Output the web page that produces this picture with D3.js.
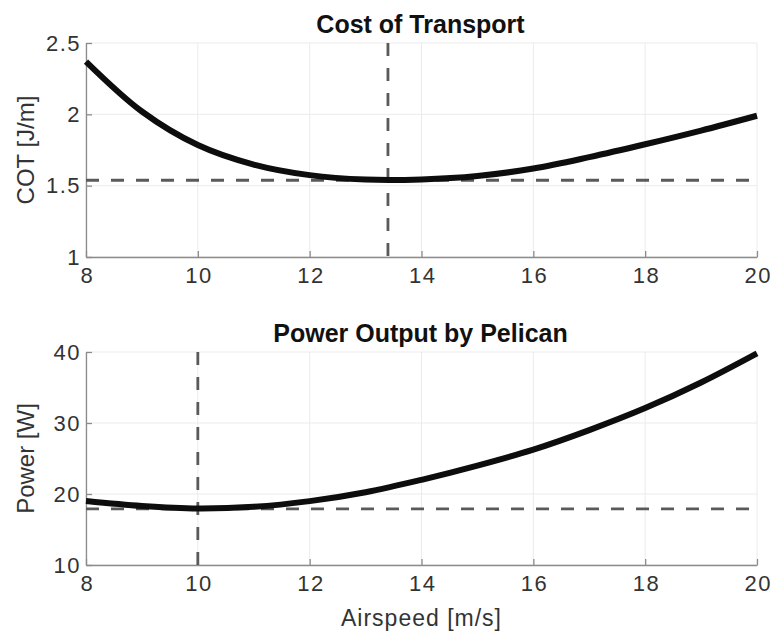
<!DOCTYPE html>
<html>
<head>
<meta charset="utf-8">
<script src="https://cdn.jsdelivr.net/npm/d3@7"></script>
<style>
  html, body { margin: 0; padding: 0; background: #fff; }
  svg { display: block; font-family: "Liberation Sans", Arial, Helvetica, sans-serif; }
</style>
</head>
<body>
<svg id="chart" width="772" height="632"></svg>
<script>
// Airspeed samples [m/s]
const airspeed = [8, 9, 10, 11, 12, 13, 14, 15, 16, 17, 18, 19, 20];
// Cost of transport [J/m]
const cot = [2.37, 2.02, 1.785, 1.648, 1.574, 1.543, 1.544, 1.568, 1.62, 1.70, 1.79, 1.886, 1.99];
// Power output [W]
const power = [19.0, 18.3, 17.95, 18.2, 19.0, 20.25, 22.0, 24.0, 26.25, 29.0, 32.1, 35.7, 39.8];

// Optimum markers
const cotMin = { v: 13.4, value: 1.538 };
const powerMin = { v: 10.0, value: 17.9 };

const xTicks = [8, 10, 12, 14, 16, 18, 20];
const cotTicks = [1, 1.5, 2, 2.5];
const powerTicks = [10, 20, 30, 40];

const svg = d3.select("#chart");
const left = 86, right = 757;

const panels = [
  { title: "Cost of Transport", ylabel: "COT [J/m]", values: cot, domain: [1, 2.5],
    ticks: cotTicks, top: 43, bottom: 257, opt: cotMin, xlabel: null },
  { title: "Power Output by Pelican", ylabel: "Power [W]", values: power, domain: [10, 40],
    ticks: powerTicks, top: 352, bottom: 565, opt: powerMin, xlabel: "Airspeed [m/s]" }
];

const x = d3.scaleLinear().domain([8, 20]).range([left, right]);

panels.forEach(p => {
  const y = d3.scaleLinear().domain(p.domain).range([p.bottom, p.top]);
  const g = svg.append("g");

  // grid
  g.append("g").selectAll("line").data(xTicks).join("line")
    .attr("x1", d => x(d)).attr("x2", d => x(d))
    .attr("y1", p.top).attr("y2", p.bottom)
    .attr("stroke", "#ebebeb").attr("stroke-width", 1);
  g.append("g").selectAll("line").data(p.ticks).join("line")
    .attr("x1", left).attr("x2", right)
    .attr("y1", d => y(d)).attr("y2", d => y(d))
    .attr("stroke", "#ebebeb").attr("stroke-width", 1);

  // axes, ticks pointing inward
  const xAxis = g.append("g").attr("transform", `translate(0,${p.bottom})`)
    .call(d3.axisBottom(x).tickValues(xTicks).tickSizeInner(-6).tickSizeOuter(0).tickPadding(10).tickFormat(d => String(d)));
  const yAxis = g.append("g").attr("transform", `translate(${left},0)`)
    .call(d3.axisLeft(y).tickValues(p.ticks).tickSizeInner(-6).tickSizeOuter(0).tickPadding(5).tickFormat(d => String(d)));
  [xAxis, yAxis].forEach(a => {
    a.select(".domain").attr("stroke", "#8c8c8c").attr("stroke-width", 1.3);
    a.selectAll(".tick line").attr("stroke", "#8c8c8c").attr("stroke-width", 1.3);
    a.selectAll(".tick text").attr("fill", "#333").attr("font-size", 22)
      .attr("letter-spacing", "1.5px");
  });
  xAxis.selectAll(".tick text").attr("dy", "0.71em").attr("dx", "0.75px");

  // optimum reference lines
  g.append("line")
    .attr("x1", x(p.opt.v)).attr("x2", x(p.opt.v))
    .attr("y1", p.top).attr("y2", p.bottom)
    .attr("stroke", "#5a5a5a").attr("stroke-width", 2.8).attr("stroke-dasharray", "13,12");
  g.append("line")
    .attr("x1", left).attr("x2", right)
    .attr("y1", y(p.opt.value)).attr("y2", y(p.opt.value))
    .attr("stroke", "#5a5a5a").attr("stroke-width", 2.8).attr("stroke-dasharray", "13,12");

  // curve
  const line = d3.line()
    .x((d, i) => x(airspeed[i]))
    .y(d => y(d))
    .curve(d3.curveCatmullRom.alpha(0.5));
  g.append("path").datum(p.values)
    .attr("d", line)
    .attr("fill", "none").attr("stroke", "#0d0d0d").attr("stroke-width", 6);

  // title
  g.append("text")
    .attr("x", (left + right) / 2 - 1).attr("y", p.top - 10)
    .attr("text-anchor", "middle").attr("font-size", 25).attr("font-weight", "bold")
    .attr("fill", "#111").text(p.title);

  // y label
  g.append("text")
    .attr("transform", `translate(34,${(p.top + p.bottom) / 2}) rotate(-90)`)
    .attr("text-anchor", "middle").attr("font-size", 24).attr("fill", "#333")
    .text(p.ylabel);

  if (p.xlabel) {
    g.append("text")
      .attr("x", (left + right) / 2).attr("y", 626)
      .attr("text-anchor", "middle").attr("font-size", 23).attr("fill", "#333")
      .attr("letter-spacing", "1px")
      .text(p.xlabel);
  }
});
</script>
</body>
</html>
